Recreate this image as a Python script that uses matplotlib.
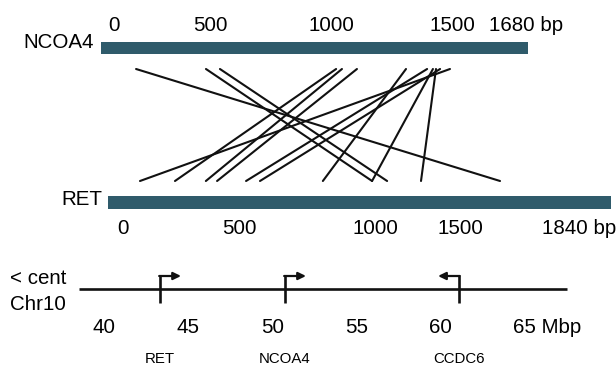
import matplotlib
matplotlib.use('Agg')
import matplotlib.pyplot as plt
from matplotlib.patches import ConnectionPatch
from matplotlib.transforms import offset_copy

plt.rcParams['font.family'] = ['Liberation Sans', 'DejaVu Sans']

# --- data ---
ncoa4_len = 1680
ret_len = 1840
ncoa4_tick_labels = ['0', '500', '1000', '1500', '1680 bp']
ret_tick_labels = ['0', '500', '1000', '1500', '1840 bp']

# breakpoint pairs: position on NCOA4 (bp) joined to position on RET (bp)
brk_ncoa4 = [138, 413, 468, 1373, 925, 948, 1007, 1283, 1334, 1200, 1306, 1318]
brk_ret = [1434, 966, 1021, 117, 245, 358, 399, 505, 556, 786, 966, 1145]

chr_ticks = [40, 45, 50, 55, 60, 65]
chr_span = [38.5, 67.5]
genes = ['RET', 'NCOA4', 'CCDC6']
gene_pos = [43.33, 50.76, 61.11]
gene_strand = [1, 1, -1]

# --- layout (pixels) ---
W, H = 616, 365
bar_col = '#2f5b6b'
fs = 14.8

fig = plt.figure(figsize=(W / 100, H / 100), dpi=100)


def full_axes(x0, x1):
    ax = fig.add_axes([0, 0, 1, 1], facecolor='none')
    ax.set_xlim(x0, x1)
    ax.set_ylim(H, 0)
    ax.axis('off')
    return ax


def scaled_axes(v0, v1, px0, px1):
    s = (px1 - px0) / (v1 - v0)
    return full_axes(v0 - px0 / s, v1 + (W - px1) / s)


ax_px = full_axes(0, W)
ax_n = scaled_axes(0, ncoa4_len, 101, 528)
ax_r = scaled_axes(0, ret_len, 108, 611)
ax_c = scaled_axes(40, 65, 104, 524.5)

# gene bars
ax_n.barh(47.9, ncoa4_len, height=12.4, left=0, color=bar_col)
ax_r.barh(202.6, ret_len, height=13.2, left=0, color=bar_col)

ax_px.text(94, 48.3, 'NCOA4', ha='right', va='baseline', fontsize=fs)
ax_px.text(102, 205, 'RET', ha='right', va='baseline', fontsize=fs)

top_x = [114, 210, 331, 452, 489]
bot_x = [123, 239, 375, 460, 542]
for i, lab in enumerate(ncoa4_tick_labels):
    ax_px.text(top_x[i], 31, lab, ha='left' if 'bp' in lab else 'center',
               va='baseline', fontsize=fs)
for i, lab in enumerate(ret_tick_labels):
    ax_px.text(bot_x[i], 234, lab, ha='left' if 'bp' in lab else 'center',
               va='baseline', fontsize=fs)

# fusion lines
for a, b in zip(brk_ncoa4, brk_ret):
    con = ConnectionPatch(xyA=(a, 69), coordsA=ax_n.transData,
                          xyB=(b, 181), coordsB=ax_r.transData,
                          color='#111111', lw=1.5)
    fig.add_artist(con)

# chromosome
ax_c.plot(chr_span, [289, 289], color='#111111', lw=1.9, solid_capstyle='butt')
for g, p, d in zip(genes, gene_pos, gene_strand):
    ax_c.plot([p, p], [303, 276], color='#111111', lw=1.9, solid_capstyle='butt')
    ax_c.annotate('', xy=(p + d * 1.25, 276), xytext=(p - d * 0.05, 276),
                  arrowprops=dict(arrowstyle='-|>,head_length=0.45,head_width=0.22',
                                  color='#111111', lw=1.6, shrinkA=0, shrinkB=0))
    ax_c.text(p, 363, g, ha='center', va='baseline', fontsize=10.8)

for t in chr_ticks[:-1]:
    ax_c.text(t, 333, str(t), ha='center', va='baseline', fontsize=fs)
ax_c.text(chr_ticks[-1], 333, f'{chr_ticks[-1]} Mbp', ha='left', va='baseline',
          fontsize=fs, transform=offset_copy(ax_c.transData, fig=fig, x=-11.5, units='dots'))

ax_px.text(10, 284, '< cent', ha='left', va='baseline', fontsize=fs)
ax_px.text(10, 310, 'Chr10', ha='left', va='baseline', fontsize=fs)

fig.savefig('out.png', dpi=100)
